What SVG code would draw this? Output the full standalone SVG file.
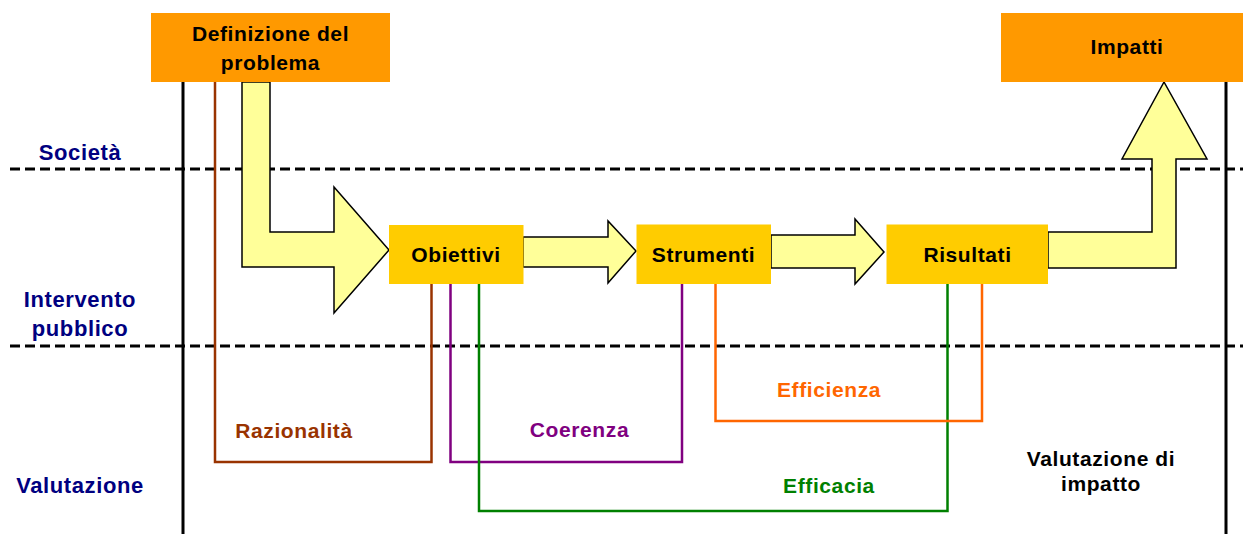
<svg xmlns="http://www.w3.org/2000/svg" width="1243" height="534" viewBox="0 0 1243 534">
<style>
text{font-family:"Liberation Sans",Arial,sans-serif;font-weight:bold;font-size:21px;text-anchor:middle;letter-spacing:0.6px}
.lane{fill:#000080;font-size:22px}
.dash{stroke:#000;stroke-width:3;stroke-dasharray:10 5;fill:none}
.vline{stroke:#000;stroke-width:3;fill:none}
.arrow{fill:#FFFF99;stroke:#000;stroke-width:1.5;stroke-linejoin:miter}
.top{fill:#FF9900}
.mid{fill:#FFCC00}
.conn{fill:none;stroke-width:2.5}
</style>
<rect width="1243" height="534" fill="#fff"/>
<g id="grid">
<line class="dash" x1="10" y1="169" x2="1243" y2="169"/>
<line class="dash" x1="10" y1="346" x2="1243" y2="346"/>
<line class="vline" x1="183" y1="82" x2="183" y2="534"/>
<line class="vline" x1="1226" y1="82" x2="1226" y2="534"/>
</g>
<g id="lanes">
<text class="lane" x="80" y="160">Società</text>
<text class="lane" x="80" y="307">Intervento</text>
<text class="lane" x="80" y="336">pubblico</text>
<text class="lane" x="80" y="493">Valutazione</text>
</g>
<g id="connectors">
<polyline class="conn" stroke="#993300" points="215,82 215,462 431.5,462 431.5,284"/>
<polyline class="conn" stroke="#800080" points="450.5,284 450.5,462 682,462 682,284"/>
<polyline class="conn" stroke="#008000" points="479,284 479,511 947.5,511 947.5,284"/>
<polyline class="conn" stroke="#FF6600" points="715.5,284 715.5,421 982,421 982,284"/>
<polygon class="arrow" points="242,82 270,82 270,232 334,232 334,187 389,250 334,313 334,267 242,267"/>
<polygon class="arrow" points="523,237 608,237 608,221 636,251 608,283 608,267 523,267"/>
<polygon class="arrow" points="771,235 855,235 855,219 884,252 855,284 855,268 771,268"/>
<polygon class="arrow" points="1048,232 1152,232 1152,159 1122,159 1164,82 1207,159 1176,159 1176,268 1048,268"/>
</g>
<g id="definizione">
<rect class="top" x="151" y="13" width="239" height="69"/>
<text x="270.5" y="41">Definizione del</text>
<text x="270.5" y="70">problema</text>
</g>
<g id="impatti">
<rect class="top" x="1001" y="13" width="242" height="69"/>
<text x="1127" y="54">Impatti</text>
</g>
<g id="obiettivi">
<rect class="mid" x="389" y="225" width="134.5" height="59"/>
<text x="456" y="262">Obiettivi</text>
</g>
<g id="strumenti">
<rect class="mid" x="636.5" y="224.5" width="134.5" height="59.5"/>
<text x="703.5" y="262">Strumenti</text>
</g>
<g id="risultati">
<rect class="mid" x="886.5" y="224.5" width="161.5" height="59.5"/>
<text x="967.5" y="262">Risultati</text>
</g>
<g id="labels">
<text x="294" y="438" fill="#993300">Razionalità</text>
<text x="579.5" y="437" fill="#800080">Coerenza</text>
<text x="829" y="397" fill="#FF6600">Efficienza</text>
<text x="829" y="493" fill="#008000">Efficacia</text>
<text x="1101" y="466" fill="#000">Valutazione di</text>
<text x="1101" y="491" fill="#000">impatto</text>
</g>
</svg>
